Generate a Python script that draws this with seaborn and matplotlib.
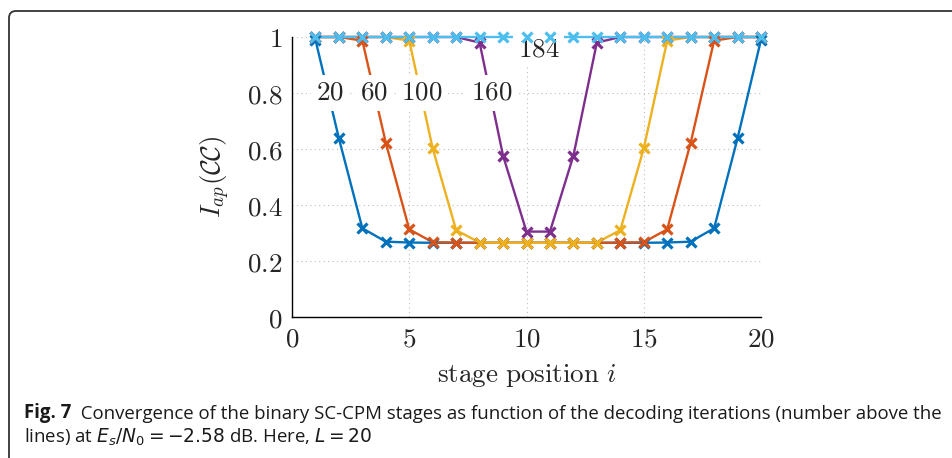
import pandas as pd
import matplotlib
matplotlib.use("Agg")
import matplotlib.pyplot as plt
import matplotlib.transforms as mtrans
from matplotlib import font_manager
from matplotlib.patches import FancyBboxPatch
import seaborn as sns

# Data
stage = list(range(1, 21))
iter_labels = ["20", "60", "100", "160", "184"]
iap_20 = [0.99, 0.638, 0.317, 0.269, 0.266, 0.265, 0.265, 0.265, 0.265, 0.265,
          0.265, 0.265, 0.265, 0.265, 0.265, 0.266, 0.269, 0.317, 0.638, 0.99]
iap_60 = [1.0, 1.0, 0.987, 0.622, 0.313, 0.267, 0.266, 0.265, 0.265, 0.265,
          0.265, 0.265, 0.265, 0.266, 0.267, 0.313, 0.622, 0.987, 1.0, 1.0]
iap_100 = [1.0, 1.0, 1.0, 1.0, 0.987, 0.602, 0.31, 0.266, 0.265, 0.265,
           0.265, 0.265, 0.266, 0.31, 0.602, 0.987, 1.0, 1.0, 1.0, 1.0]
iap_160 = [1.0, 1.0, 1.0, 1.0, 1.0, 1.0, 1.0, 0.98, 0.576, 0.305,
           0.305, 0.576, 0.98, 1.0, 1.0, 1.0, 1.0, 1.0, 1.0, 1.0]
iap_184 = [1.0] * 20
series = [iap_20, iap_60, iap_100, iap_160, iap_184]

# where the iteration numbers sit (data coords)
label_x = [1.62, 3.48, 5.53, 8.51, 10.52]
label_y = [0.80, 0.80, 0.80, 0.80, 0.955]

xticks = [0, 5, 10, 15, 20]
yticks = [0, 0.2, 0.4, 0.6, 0.8, 1]

colors = ["#0072BD", "#D95319", "#EDB120", "#7E2F8E", "#4DBEEE"]

df = pd.concat(
    [pd.DataFrame({"stage": stage, "iap": vals, "iter": lab})
     for lab, vals in zip(iter_labels, series)],
    ignore_index=True)

sns.set_style("white")
plt.rcParams["mathtext.fontset"] = "cm"

names = {f.name for f in font_manager.fontManager.ttflist}
cap_font = next(n for n in ["Liberation Sans Narrow", "Open Sans", "DejaVu Sans"] if n in names)

fs = 19.5
fig = plt.figure(figsize=(9.53, 4.58), dpi=100)
ax = fig.add_axes([292 / 953, 1 - 317 / 458, 469 / 953, 280 / 458])

# lines below the number labels, markers on top of them
for lab, col in zip(iter_labels, colors):
    sub = df[df["iter"] == lab]
    sns.lineplot(data=sub, x="stage", y="iap", ax=ax, color=col, lw=1.7,
                 clip_on=False, legend=False, zorder=3)
for lab, col in zip(iter_labels, colors):
    sub = df[df["iter"] == lab]
    sns.lineplot(data=sub, x="stage", y="iap", ax=ax, color=col, ls="none",
                 marker="x", markersize=7, markeredgewidth=2.3,
                 markeredgecolor=col, clip_on=False, legend=False, zorder=6)

for lab, tx, ty in zip(iter_labels, label_x, label_y):
    ax.text(tx, ty, f"${lab}$", fontsize=fs, ha="center", va="center", zorder=5,
            bbox=dict(facecolor="white", edgecolor="none", pad=3.5))

ax.set_xlim(0, 20)
ax.set_ylim(0, 1)
ax.set_xticks(xticks)
ax.set_yticks(yticks)
ax.set_xticklabels([f"${v:g}$" for v in xticks], fontsize=fs)
ax.set_yticklabels([f"${v:g}$" for v in yticks], fontsize=fs)
ax.tick_params(direction="in", length=4, width=0.8, color="#8a8a8a", pad=7)
ax.grid(True, linestyle=(0, (1, 3)), color="#bdbdbd", linewidth=0.8, zorder=0)
for s in ["top", "right"]:
    ax.spines[s].set_visible(False)
for s in ["left", "bottom"]:
    ax.spines[s].set_color("black")
    ax.spines[s].set_linewidth(1.0)

ax.set_xlabel(r"$\mathrm{stage\ position}\ i$", fontsize=fs)
ax.set_ylabel(r"$I_{ap}(\mathcal{CC})$", fontsize=fs)
ax.xaxis.set_label_coords(0.5, -0.16)
ax.yaxis.set_label_coords(-0.127, 0.5)

# caption
cap_size = 13.4
t1 = fig.text(24 / 953, 1 - 418 / 458, "Fig. 7", fontsize=cap_size, fontweight="bold",
              family=cap_font, va="baseline", color="#1a1a1a")
fig.add_artist(plt.Annotation(
    "  Convergence of the binary SC-CPM stages as function of the decoding iterations (number above the",
    xy=(1, 0), xycoords=t1, va="bottom", ha="left", fontsize=cap_size,
    family=cap_font, color="#1a1a1a"))
fig.text(24 / 953, 1 - 443 / 458,
         r"lines) at $E_s/N_0 = {-}2.58$ dB. Here, $L = 20$",
         fontsize=cap_size, family=cap_font, va="baseline", color="#1a1a1a",
         math_fontfamily="dejavusans")

# frame around the figure
frame = FancyBboxPatch((9, -20), 960, 458 - 11 + 20,
                       boxstyle="round,pad=0,rounding_size=7",
                       transform=mtrans.IdentityTransform(),
                       facecolor="none", edgecolor="#333333", linewidth=1.3)
fig.add_artist(frame)

fig.savefig("out.png", dpi=100)
